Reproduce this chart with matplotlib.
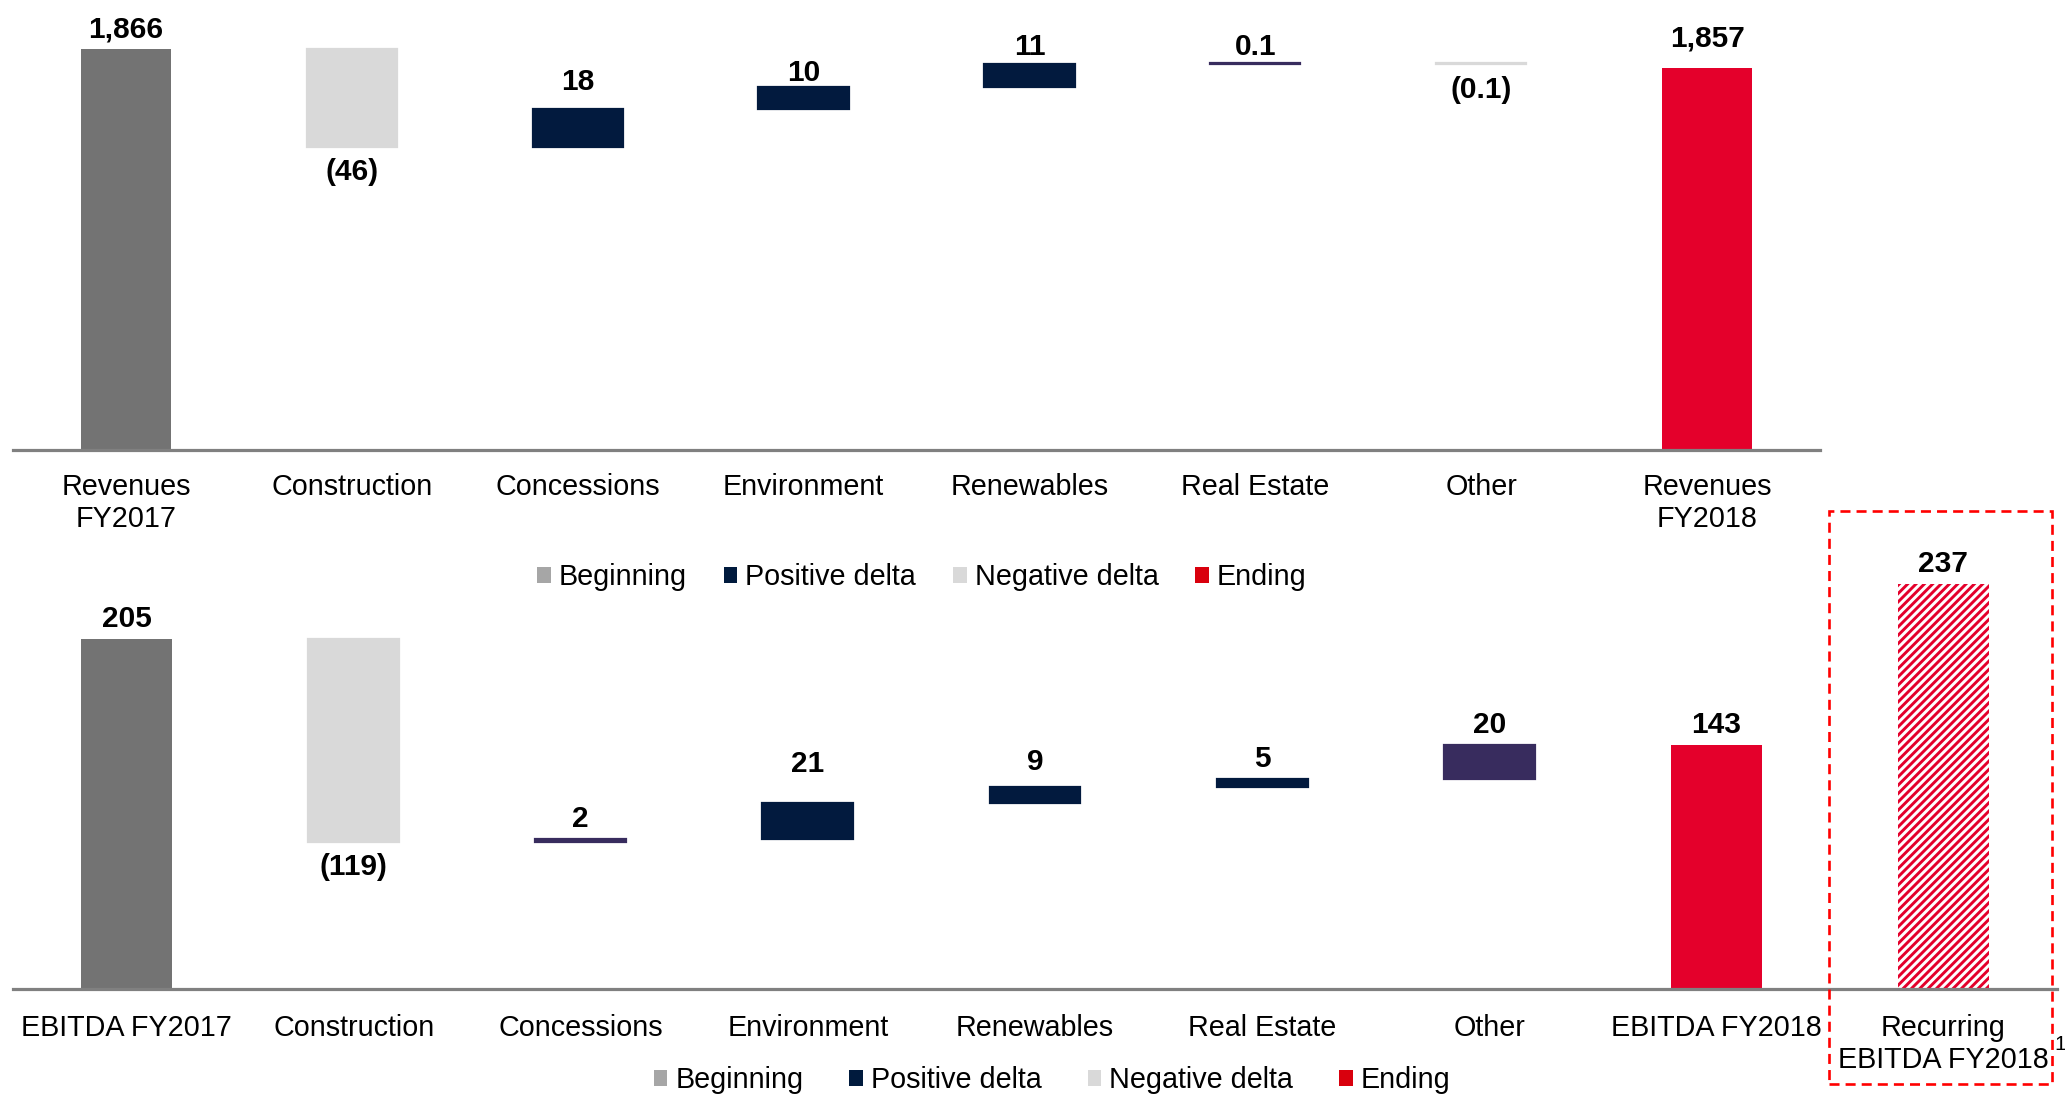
import matplotlib
matplotlib.use("Agg")
import matplotlib.pyplot as plt
from matplotlib.patches import Patch, Rectangle

plt.rcParams['font.family'] = ['Liberation Sans', 'DejaVu Sans']
plt.rcParams['hatch.linewidth'] = 2.1

# ---------------- data ----------------
rev_categories = ["Revenues\nFY2017", "Construction", "Concessions", "Environment",
                  "Renewables", "Real Estate", "Other", "Revenues\nFY2018"]
rev_start = 1866
rev_deltas = [-46, 18, 10, 11, 0.1, -0.1]
rev_end = 1857

ebitda_categories = ["EBITDA FY2017", "Construction", "Concessions", "Environment",
                     "Renewables", "Real Estate", "Other", "EBITDA FY2018",
                     "Recurring\nEBITDA FY2018"]
ebitda_start = 205
ebitda_deltas = [-119, 2, 21, 9, 5, 20]
ebitda_end = 143
ebitda_recurring = 237

legend_labels = ["Beginning", "Positive delta", "Negative delta", "Ending"]

# ---------------- styles ----------------
C_BEG = "#737373"
C_POS = "#021A3E"
C_PUR = "#382C5E"
C_NEG = "#D9D9D9"
C_END = "#E4002B"
LEG_COLORS = ["#A6A6A6", "#001A3D", "#D9D9D9", "#D9000D"]

rev_delta_colors = [C_NEG, C_POS, C_POS, C_POS, C_PUR, C_NEG]
ebitda_delta_colors = [C_NEG, C_PUR, C_POS, C_POS, C_POS, C_PUR]

# extra label offsets (points), one per bar, to mimic the reference placement
rev_label_extra = [0, 3, 5, -4, -2, -2, 4, 7]
ebitda_label_extra = [0, 3, 0, 14, 4, 0, 0, 0, 0]

W, H = 2065, 1094
fig = plt.figure(figsize=(W / 100, H / 100), dpi=100)

FS = 20.7
FS_VAL = 21.5
BAR_W = 0.40


def fmt(v):
    if abs(v - round(v)) > 1e-9:
        s = f"{abs(v):.1f}"
    else:
        s = f"{int(round(abs(v))):,}"
    return f"({s})" if v < 0 else s


def label(ax, x, y, v, extra=0, below=False):
    if below:
        ax.annotate(fmt(v), (x, y), xytext=(0, -5 - extra), textcoords="offset points",
                    ha="center", va="top", fontsize=FS_VAL, fontweight="bold")
    else:
        ax.annotate(fmt(v), (x, y), xytext=(0, 4 + extra), textcoords="offset points",
                    ha="center", va="bottom", fontsize=FS_VAL, fontweight="bold")


def style_axes(ax, cats, pad):
    for s in ["top", "right", "left"]:
        ax.spines[s].set_visible(False)
    ax.spines["bottom"].set_color("#808080")
    ax.spines["bottom"].set_linewidth(2.3)
    ax.set_yticks([])
    ax.set_xticks(range(len(cats)))
    ax.set_xticklabels(cats, fontsize=FS, linespacing=1.2)
    ax.tick_params(axis="x", length=0, pad=pad)
    ax.set_xlim(-0.5, len(cats) - 0.5)


def waterfall(ax, start, deltas, end, colors, extras):
    ax.bar(0, start, width=BAR_W, color=C_BEG, linewidth=0)
    label(ax, 0, start, start, extras[0])
    cum = start
    for i, (d, c) in enumerate(zip(deltas, colors), start=1):
        lo, hi = min(cum, cum + d), max(cum, cum + d)
        ax.bar(i, hi - lo, bottom=lo, width=BAR_W, color=c,
               edgecolor=c, linewidth=1.6)
        if d < 0:
            label(ax, i, lo, d, extras[i], below=True)
        else:
            label(ax, i, hi, d, extras[i])
        cum += d
    n = len(deltas) + 1
    ax.bar(n, end, width=BAR_W, color=C_END, linewidth=0)
    label(ax, n, end, end, extras[n])
    return n


# ---------------- top chart ----------------
ax1 = fig.add_axes([13 / W, 1 - 450 / H, (1820 - 13) / W, 440 / H])
waterfall(ax1, rev_start, rev_deltas, rev_end, rev_delta_colors, rev_label_extra)
ax1.set_ylim(1679, 1884)
style_axes(ax1, rev_categories, pad=16.5)

# ---------------- bottom chart ----------------
ax2 = fig.add_axes([13 / W, 1 - 989 / H, (2057 - 13) / W, 429 / H])
n_end = waterfall(ax2, ebitda_start, ebitda_deltas, ebitda_end, ebitda_delta_colors,
                  ebitda_label_extra)
ax2.bar(n_end + 1, ebitda_recurring, width=BAR_W, facecolor="white",
        edgecolor=C_END, linewidth=0, hatch="////")
label(ax2, n_end + 1, ebitda_recurring, ebitda_recurring, ebitda_label_extra[n_end + 1])
ax2.set_ylim(0, 251)
style_axes(ax2, ebitda_categories, pad=18)

# ---------------- legends ----------------
handles = [Patch(facecolor=c, edgecolor="none") for c in LEG_COLORS]
common = dict(ncol=4, frameon=False, fontsize=FS, handlelength=0.47,
              handleheight=0.47, handletextpad=0.28, borderaxespad=0,
              borderpad=0, loc="center")
fig.legend(handles, legend_labels, bbox_to_anchor=(922 / W, 1 - 577 / H),
           columnspacing=1.28, **common)
fig.legend(handles, legend_labels, bbox_to_anchor=(1052 / W, 1 - 1080 / H),
           columnspacing=1.6, **common)

# ---------------- dashed highlight box ----------------
box = Rectangle((1829 / W, 1 - 1084 / H), (2052 - 1829) / W, (1084 - 511) / H,
                transform=fig.transFigure, fill=False, edgecolor="#FF0000",
                linewidth=1.9, linestyle=(0, (3.8, 2.3)))
fig.add_artist(box)

fig.text(2054 / W, 1 - 1044 / H, "1", fontsize=15, ha="left", va="center")

fig.savefig("out.png", dpi=100)
